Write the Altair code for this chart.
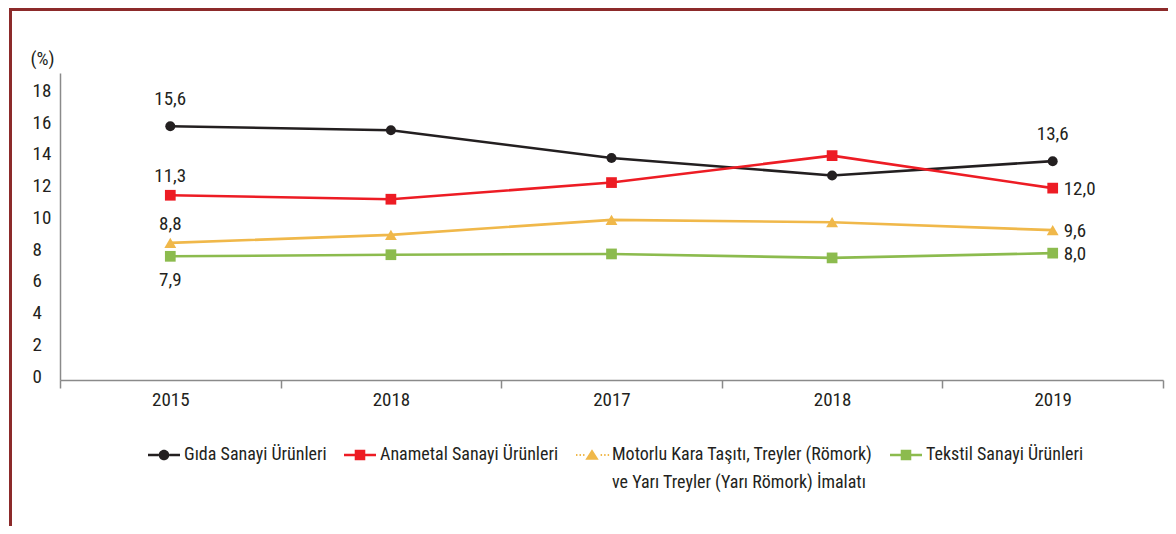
import altair as alt
import pandas as pd

# ---------------- data ----------------
categories = ["2015", "2018", "2017", "2018", "2019"]
series = [
    "Gıda Sanayi Ürünleri",
    "Anametal Sanayi Ürünleri",
    "Motorlu Kara Taşıtı, Treyler (Römork)\nve Yarı Treyler (Yarı Römork) İmalatı",
    "Tekstil Sanayi Ürünleri",
]
gida = [16.0, 15.75, 14.0, 12.9, 13.8]
anametal = [11.65, 11.4, 12.45, 14.15, 12.1]
motorlu = [8.65, 9.15, 10.1, 9.95, 9.45]
tekstil = [7.8, 7.9, 7.95, 7.7, 8.0]
values = [gida, anametal, motorlu, tekstil]

first_labels = ["15,6", "11,3", "8,8", "7,9"]
last_labels = ["13,6", "12,0", "9,6", "8,0"]
first_place = ["above_far", "above", "above", "below"]
last_place = ["above_far", "right", "right", "right"]

colors = ["#231F20", "#ED1C24", "#F0B84A", "#8CBB4E"]

rows = []
for s, vals in zip(series, values):
    for i, v in enumerate(vals):
        rows.append({"series": s, "idx": i, "value": v})
df = pd.DataFrame(rows)

lab_rows = []
for k, s in enumerate(series):
    lab_rows.append({"series": s, "idx": 0, "value": values[k][0],
                     "text": first_labels[k], "place": first_place[k]})
    last = len(categories) - 1
    lab_rows.append({"series": s, "idx": last, "value": values[k][last],
                     "text": last_labels[k], "place": last_place[k]})
labels_df = pd.DataFrame(lab_rows)

# ---------------- styling ----------------
FONT = "Liberation Sans Narrow, Roboto Condensed, DejaVu Sans Condensed, sans-serif"
TXT = "#231F20"
W, H = 1103, 307


def seg_line(x0, x1, t=0.08, dy=0.0):
    return f"M{x0},{dy - t}H{x1}V{dy + t}H{x0}Z"


DY = 0.0
R = 0.33
line_part = seg_line(-1, -R, dy=DY) + seg_line(R, 1, dy=DY)
circle = (f"M{-R},{DY}A{R},{R} 0 1,1 {R},{DY}A{R},{R} 0 1,1 {-R},{DY}Z")
square = f"M{-R},{DY - R}H{R}V{DY + R}H{-R}Z"
tri = f"M-0.42,{DY + 0.3}L0,{DY - 0.36}L0.42,{DY + 0.3}Z"
dots = ""
x = -1.0
while x < 0.98:
    if abs(x) > 0.45:
        dots += seg_line(round(x, 3), round(x + 0.09, 3), t=0.06, dy=DY)
    x += 0.22
legend_shapes = [line_part + circle, line_part + square, dots + tri, line_part + square]
mark_shapes = ["circle", "square", "triangle-up", "square"]
mark_sizes = [100, 115, 140, 115]

x_label_expr = "[" + ",".join(f"'{c}'" for c in categories) + "][datum.value]"

x_enc = alt.X(
    "idx:O",
    scale=alt.Scale(type="band", paddingInner=0, paddingOuter=0),
    axis=alt.Axis(
        title=None, labelExpr=x_label_expr, tickBand="extent", labelAngle=0,
        tickSize=8, tickColor="#8a8a8a", domainColor="#8a8a8a", domainWidth=1.5,
        tickWidth=1.5, labelFont=FONT, labelFontSize=19, labelColor=TXT,
        labelPadding=2, grid=False,
    ),
)
y_enc = alt.Y(
    "value:Q",
    scale=alt.Scale(domain=[0, 19.36], nice=False, zero=True),
    axis=alt.Axis(
        values=list(range(0, 19, 2)), ticks=False, tickSize=0, grid=False,
        labelAlign="left", labelPadding=28, labelOffset=-4,
        labelFont=FONT, labelFontSize=19, labelColor=TXT,
        domainColor="#8a8a8a", domainWidth=1.5,
        title="(%)", titleAngle=0, titleX=-18, titleY=-15,
        titleAlign="center", titleBaseline="middle",
        titleFont=FONT, titleFontSize=19, titleFontWeight="normal",
        titleColor=TXT,
    ),
)

label_expr = ("indexof(datum.label, '\\n') >= 0 ? split(datum.label, '\\n')"
              " : [datum.label, '']")
legend = alt.Legend(title=None, labelExpr=label_expr)

lines = alt.Chart(df).mark_line(strokeWidth=2.6).encode(
    x=x_enc, y=y_enc,
    stroke=alt.Stroke("series:N", scale=alt.Scale(domain=series, range=colors),
                      legend=legend),
    detail="series:N",
)

point_layers = []
for k, s in enumerate(series):
    point_layers.append(
        alt.Chart(df).transform_filter(alt.datum.series == s).mark_point(
            filled=True, size=mark_sizes[k], opacity=1, shape=mark_shapes[k]
        ).encode(
            x=x_enc, y=y_enc,
            fill=alt.Fill("series:N", scale=alt.Scale(domain=series, range=colors),
                          legend=legend),
        )
    )

# legend-only layer: no rows survive the filter, the explicit scale domains
# still drive the legend entries
legend_layer = alt.Chart(df).transform_filter("false").mark_point(
    filled=True, size=1024
).encode(
    x=x_enc, y=y_enc,
    color=alt.Color("series:N", scale=alt.Scale(domain=series, range=colors),
                    legend=legend),
    shape=alt.Shape("series:N", scale=alt.Scale(domain=series, range=legend_shapes),
                    legend=legend),
)


def text_layer(place, **kw):
    return alt.Chart(labels_df).transform_filter(
        alt.datum.place == place
    ).mark_text(font=FONT, fontSize=19, color=TXT, **kw).encode(
        x=x_enc, y=y_enc, text="text:N"
    )


texts = (
    text_layer("above_far", dy=-27)
    + text_layer("above", dy=-19)
    + text_layer("below", dy=24)
    + text_layer("right", dx=11, dy=1, align="left")
)

frame_df = pd.DataFrame({"k": [0]})
frame_col = "#8C2A2A"
top_border = alt.Chart(frame_df).mark_rule(color=frame_col, strokeWidth=3).encode(
    x=alt.value(-51), x2=alt.value(1108), y=alt.value(-63.5)
)
left_border = alt.Chart(frame_df).mark_rule(color=frame_col, strokeWidth=3).encode(
    x=alt.value(-49.5), y=alt.value(-65), y2=alt.value(460)
)

chart = alt.layer(
    lines, *point_layers, legend_layer, texts, top_border, left_border
).properties(
    width=W, height=H,
    autosize=alt.AutoSizeParams(type="none"),
    padding={"left": 52, "top": 65, "right": 5, "bottom": 146},
).configure(
    font=FONT, style={"guide-label": {"lineHeight": 28}}
).configure_legend(
    orient="none", legendX=88, legendY=366, direction="horizontal",
    columns=4, symbolSize=1024, symbolStrokeWidth=0,
    labelFont=FONT, labelFontSize=18, labelColor=TXT, labelLimit=500,
    columnPadding=17, labelOffset=4, padding=0, symbolOpacity=1,
).configure_view(stroke=None)

chart.save("out.html", embed_options={"renderer": "svg", "actions": False})
